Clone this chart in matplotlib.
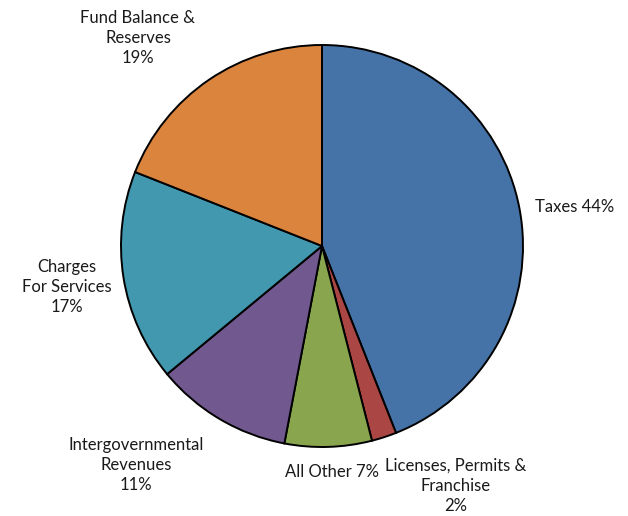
import matplotlib
matplotlib.use('Agg')
import matplotlib.pyplot as plt

# Revenue sources, clockwise from 12 o'clock
sources = ['Taxes', 'Licenses, Permits &\nFranchise', 'All Other',
           'Intergovernmental\nRevenues', 'Charges\nFor Services',
           'Fund Balance &\nReserves']
shares = [44, 2, 7, 11, 17, 19]
colors = ['#4572A7', '#AA4643', '#89A54E', '#71588F', '#4198AF', '#DB843D']

# label text layout: (x, y, inline) in figure pixels, y from top
label_pos = [(575, 207, True), (456, 486, False), (332, 472, True),
             (136, 465, False), (67, 287, False), (138, 38, False)]

W, H = 628, 516
fig = plt.figure(figsize=(W / 100, H / 100), dpi=100)
ax = fig.add_axes([0, 0, 1, 1])
ax.set_xlim(0, W)
ax.set_ylim(0, H)
ax.set_aspect('equal')
ax.axis('off')

ax.pie(shares, colors=colors, startangle=90, counterclock=False,
       center=(322, H - 246), radius=201,
       wedgeprops=dict(edgecolor='black', linewidth=1.4))
ax.set_xlim(0, W)
ax.set_ylim(0, H)

for name, val, (x, y, inline) in zip(sources, shares, label_pos):
    txt = f'{name} {val}%' if inline else f'{name}\n{val}%'
    ax.text(x, H - y, txt, ha='center', va='center', fontsize=12,
            family='Lato', color='#1a1a1a', linespacing=1.3)

fig.savefig('out.png', dpi=100)
